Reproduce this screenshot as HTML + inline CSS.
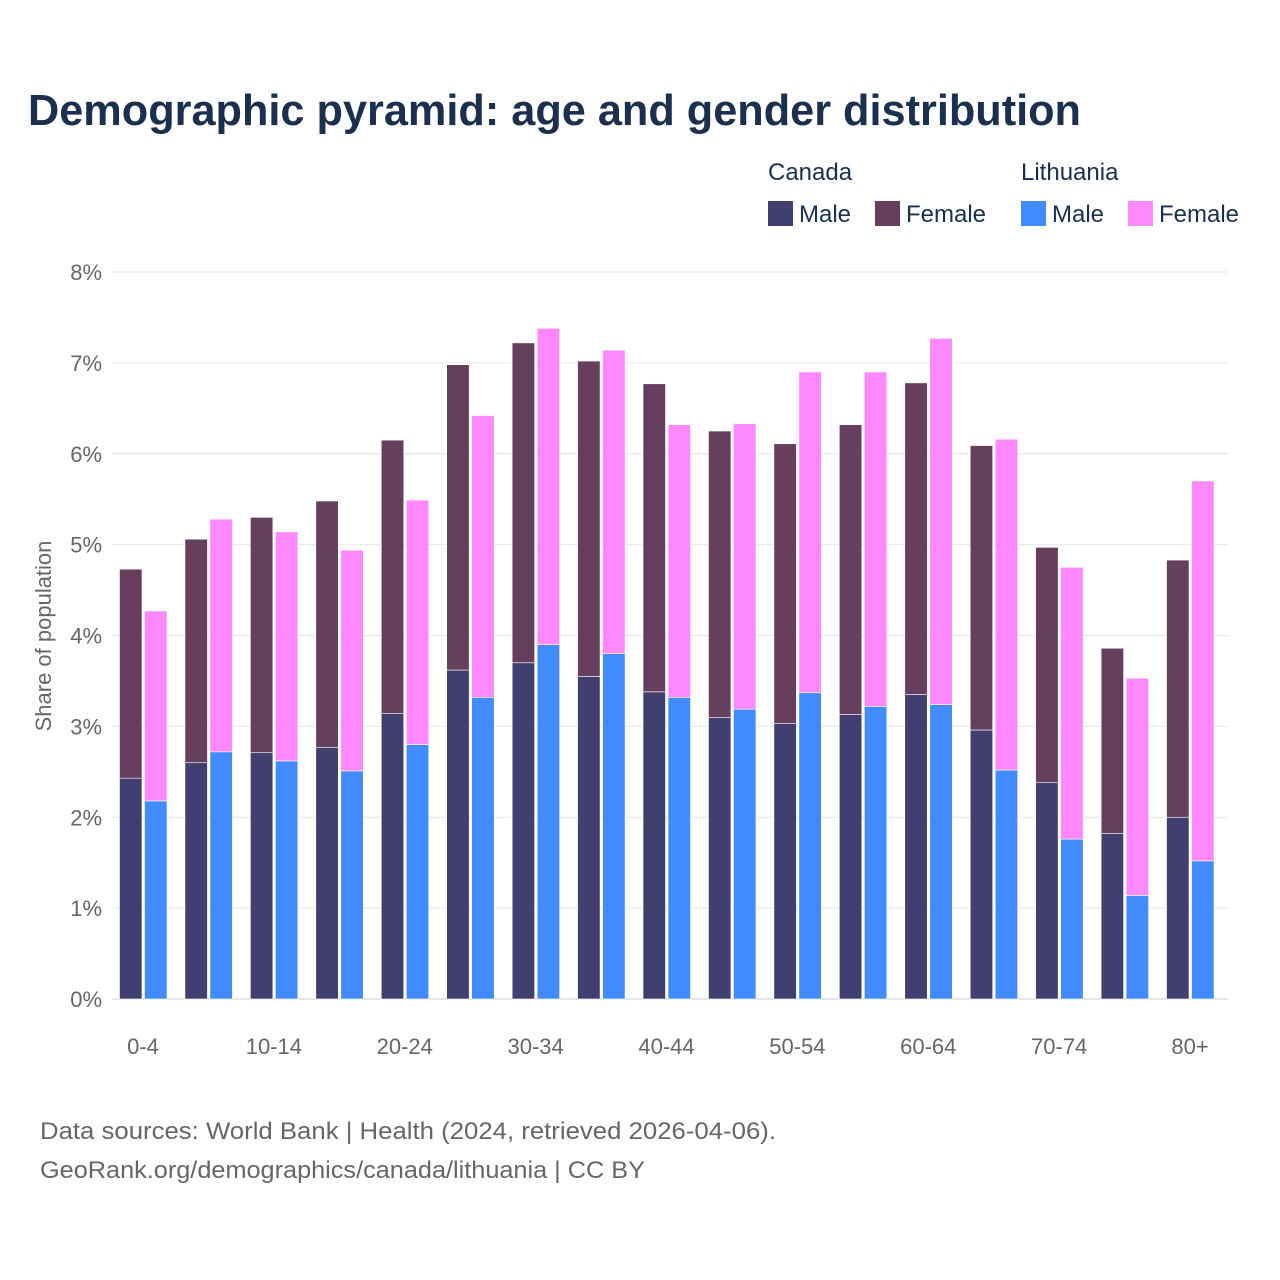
<!DOCTYPE html>
<html><head><meta charset="utf-8"><style>
body{margin:0;background:#fff;font-family:"Liberation Sans",sans-serif;}
#wrap{position:relative;width:1280px;height:1280px;overflow:hidden;}
</style></head><body><div id="wrap">
<svg id="svg" width="1280" height="1280" xmlns="http://www.w3.org/2000/svg">
<text x="28" y="125" font-size="44" font-weight="bold" fill="#1b2f4f" textLength="1053" lengthAdjust="spacingAndGlyphs">Demographic pyramid: age and gender distribution</text>
<g font-size="24" fill="#1b2f4f">
<text x="768" y="180">Canada</text>
<text x="1021" y="180">Lithuania</text>
<rect x="768" y="201" width="25" height="25" fill="#413f6f"/>
<text x="799" y="222">Male</text>
<rect x="875" y="201" width="25" height="25" fill="#663f5f"/>
<text x="906" y="222">Female</text>
<rect x="1021" y="201" width="25" height="25" fill="#418bff"/>
<text x="1052" y="222">Male</text>
<rect x="1128" y="201" width="25" height="25" fill="#ff88ff"/>
<text x="1159" y="222">Female</text>
</g>
<text transform="translate(51,636) rotate(-90)" text-anchor="middle" font-size="22" fill="#666">Share of population</text>
<g id="grid"></g><g id="bars"></g><g id="ticks"></g>
<text x="40" y="1139" font-size="24" fill="#666" textLength="736" lengthAdjust="spacingAndGlyphs">Data sources: World Bank | Health (2024, retrieved 2026-04-06).</text>
<text x="40" y="1178" font-size="24" fill="#666" textLength="605" lengthAdjust="spacingAndGlyphs">GeoRank.org/demographics/canada/lithuania | CC BY</text>
</svg></div>
<script>
const categories=["0-4","5-9","10-14","15-19","20-24","25-29","30-34","35-39","40-44","45-49","50-54","55-59","60-64","65-69","70-74","75-79","80+"];
const canadaMale=[2.43,2.60,2.71,2.77,3.14,3.62,3.70,3.55,3.38,3.10,3.03,3.13,3.35,2.96,2.38,1.82,2.00];
const canadaFemale=[2.30,2.46,2.59,2.71,3.01,3.36,3.52,3.47,3.39,3.15,3.08,3.19,3.43,3.13,2.59,2.04,2.83];
const lithMale=[2.18,2.72,2.62,2.51,2.80,3.32,3.90,3.80,3.32,3.19,3.37,3.22,3.24,2.52,1.76,1.14,1.52];
const lithFemale=[2.09,2.56,2.52,2.43,2.69,3.10,3.48,3.34,3.00,3.14,3.53,3.68,4.03,3.64,2.99,2.39,4.18];
const yTicks=[0,1,2,3,4,5,6,7,8];
const xLabelIdx=[0,2,4,6,8,10,12,14,16];
const NS="http://www.w3.org/2000/svg";
const y=v=>999-v*90.875;
const xc=i=>143+i*65.44;
function mk(tag,attrs,parent){const e=document.createElementNS(NS,tag);for(const k in attrs)e.setAttribute(k,attrs[k]);parent.appendChild(e);return e;}
const grid=document.getElementById('grid'),bars=document.getElementById('bars'),ticks=document.getElementById('ticks');
yTicks.forEach(t=>{
 const l=mk('line',{x1:112,x2:1228,y1:y(t),y2:y(t),stroke:t===0?'#ccc':'#e6e6e6','stroke-width':1},grid);
 
 
 const tx=mk('text',{x:102,y:y(t)+8,'text-anchor':'end','font-size':22,fill:'#666'},ticks);
 tx.textContent=t+'%';
 
 
});
xLabelIdx.forEach(i=>{
 const tx=mk('text',{x:xc(i),y:1054,'text-anchor':'middle','font-size':22,fill:'#666'},ticks);
 tx.textContent=categories[i];
 
 
});
function bar(x,v0,v1,fill,name){
 const r=mk('rect',{x:x,y:y(v1),width:22.5,height:y(v0)-y(v1),fill:fill,stroke:'#fff','stroke-width':0.6},bars);
 
 
}
categories.forEach((c,i)=>{
 const cx=xc(i);
 bar(cx-23.5,0,canadaMale[i],'#413f6f','bar-canada-male-'+c);
 bar(cx-23.5,canadaMale[i],canadaMale[i]+canadaFemale[i],'#663f5f','bar-canada-female-'+c);
 bar(cx+1.5,0,lithMale[i],'#418bff','bar-lithuania-male-'+c);
 bar(cx+1.5,lithMale[i],lithMale[i]+lithFemale[i],'#ff88ff','bar-lithuania-female-'+c);
});
</script></body></html>
